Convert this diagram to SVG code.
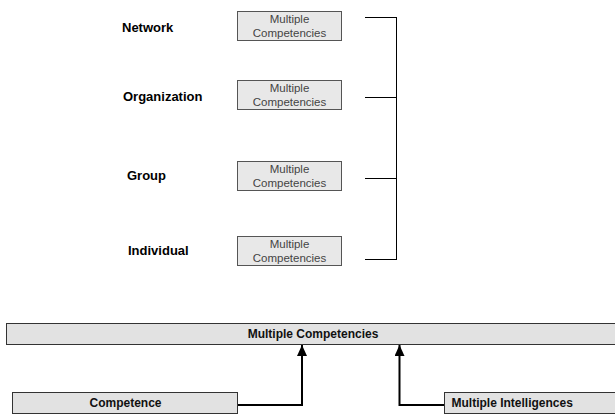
<svg xmlns="http://www.w3.org/2000/svg" width="615" height="417" viewBox="0 0 615 417">
<style>
.lvl{font-family:"Liberation Sans",Arial,sans-serif;font-size:13px;font-weight:bold;fill:#000}
.sb{fill:#e8e8e8;stroke:#555;stroke-width:1}
.st{font-family:"Liberation Sans",Arial,sans-serif;font-size:11.5px;fill:#444;text-anchor:middle}
.bb{fill:#e2e2e2;stroke:#333;stroke-width:1}
.bt{font-family:"Liberation Sans",Arial,sans-serif;font-size:12px;font-weight:bold;fill:#111}
.thin{fill:none;stroke:#000;stroke-width:1}
.thick{fill:none;stroke:#000;stroke-width:2}
</style>
<defs>
<marker id="ah" markerWidth="11" markerHeight="10" refX="11" refY="5" orient="auto" markerUnits="userSpaceOnUse" viewBox="0 0 11 10">
<path d="M0,0 L11,5 L0,10 Z" fill="#000"/>
</marker>
</defs>
<rect width="615" height="417" fill="#fff"/>
<g id="labels">
<text class="lvl" x="122" y="31.5">Network</text>
<text class="lvl" x="123" y="101">Organization</text>
<text class="lvl" x="127" y="179.5">Group</text>
<text class="lvl" x="128" y="255">Individual</text>
</g>
<g id="node-network">
<rect class="sb" x="237.5" y="11.5" width="104" height="29"/>
<text class="st" x="289.5" y="23.3">Multiple</text>
<text class="st" x="289.5" y="37.3">Competencies</text>
</g>
<g id="node-organization">
<rect class="sb" x="237.5" y="80.5" width="104" height="29"/>
<text class="st" x="289.5" y="92.3">Multiple</text>
<text class="st" x="289.5" y="106.3">Competencies</text>
</g>
<g id="node-group">
<rect class="sb" x="237.5" y="161.5" width="104" height="29"/>
<text class="st" x="289.5" y="173.3">Multiple</text>
<text class="st" x="289.5" y="187.3">Competencies</text>
</g>
<g id="node-individual">
<rect class="sb" x="237.5" y="236.5" width="104" height="29"/>
<text class="st" x="289.5" y="248.3">Multiple</text>
<text class="st" x="289.5" y="262.3">Competencies</text>
</g>
<g id="node-multiple-competencies">
<rect class="bb" x="6.5" y="323.5" width="609" height="21"/>
<text class="bt" x="313" y="338" text-anchor="middle">Multiple Competencies</text>
</g>
<g id="node-competence">
<rect class="bb" x="12.5" y="392.5" width="225" height="21"/>
<text class="bt" x="125.5" y="407" text-anchor="middle">Competence</text>
</g>
<g id="node-multiple-intelligences">
<rect class="bb" x="444.5" y="392.5" width="171" height="21"/>
<text class="bt" x="451.5" y="407">Multiple Intelligences</text>
</g>
<g id="connectors">
<path class="thin" d="M365,17.5 H396.5 M365,97.5 H396.5 M365,178.5 H396.5 M365,259.5 H396.5 M396.5,17 V260"/>
<path class="thick" d="M238,405 H302 V345" marker-end="url(#ah)"/>
<path class="thick" d="M444,405 H399.5 V345" marker-end="url(#ah)"/>
</g>
</svg>
